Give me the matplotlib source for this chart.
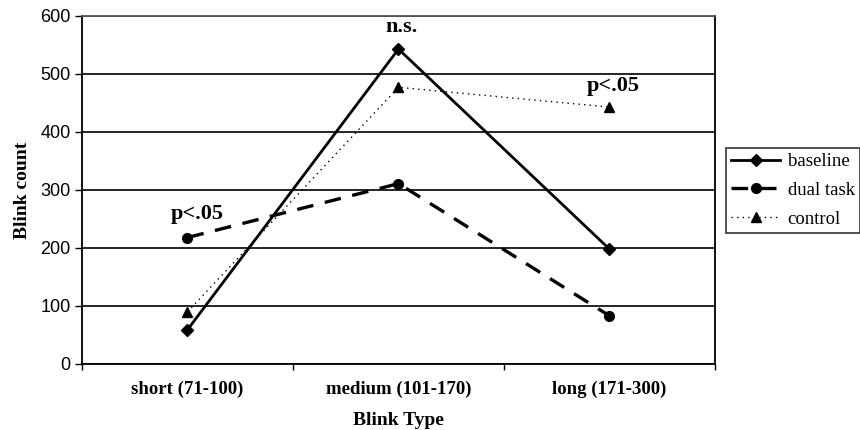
import numpy as np
import matplotlib
matplotlib.use("Agg")
import matplotlib.pyplot as plt
from matplotlib.ticker import FixedLocator

# ── data ─────────────────────────────────────────────────────────────────────
categories = ["short (71-100)", "medium (101-170)", "long (171-300)"]
baseline   = [59, 543, 198]
dual_task  = [218, 311, 83]
control    = [90, 477, 443]
yticks     = [0, 100, 200, 300, 400, 500, 600]
notes      = [("p<.05", 0, 218), ("n.s.", 1, 543), ("p<.05", 2, 443)]

SERIF = "Liberation Serif"
SANS  = "Liberation Sans"

fig = plt.figure(figsize=(8.6, 4.3), dpi=100, facecolor="white")
ax = fig.add_axes([0.0953, 0.1535, 0.7361, 0.8093])

x = np.arange(len(categories))

ax.plot(x, baseline, color="black", lw=2.0, ls="-",
        marker="D", ms=6, mfc="black", mec="black", label="baseline", zorder=4)
ax.plot(x, dual_task, color="black", lw=2.4, ls=(0, (5, 3.5)),
        marker="o", ms=7, mfc="black", mec="black", label="dual task", zorder=4)
ax.plot(x, control, color="black", lw=1.0, ls=(0, (1, 3)),
        marker="^", ms=7.5, mfc="black", mec="black", label="control", zorder=4)

# significance notes (offsets in points from the marked point)
note_offsets = [(7, 10), (2, 9), (3, 8)]
for (txt, i, v), (dx, dy) in zip(notes, note_offsets):
    ax.annotate(txt, xy=(i, v), xytext=(dx, dy),
                textcoords="offset points", ha="center", va="bottom",
                fontsize=16, fontweight="bold", family=SERIF)

# axes styling
ax.set_xlim(-0.5, 2.5)
ax.set_ylim(0, 600)
ax.set_yticks(yticks)
ax.set_xticks(x)
ax.set_xticklabels(categories, fontsize=13.5, fontweight="bold", family=SERIF)
ax.xaxis.set_minor_locator(FixedLocator([-0.5, 0.5, 1.5, 2.5]))
ax.tick_params(axis="x", which="major", length=0, pad=12)
ax.tick_params(axis="x", which="minor", length=4, width=1, direction="out")
ax.tick_params(axis="y", length=5, width=1, direction="out", pad=3)
for lab in ax.get_yticklabels():
    lab.set_family(SANS)
    lab.set_fontsize(13)

ax.grid(axis="y", color="black", lw=1.2, zorder=1)
ax.set_axisbelow(True)
for sp in ax.spines.values():
    sp.set_color("black")
    sp.set_linewidth(1.3)
ax.spines["top"].set_color("#555555")

ax.set_xlabel("Blink Type", fontsize=14, fontweight="bold", family=SERIF, labelpad=10)
ax.set_ylabel("Blink count", fontsize=14, fontweight="bold", family=SERIF, labelpad=7)

leg = ax.legend(loc="upper left", bbox_to_anchor=(1.017, 0.622),
                frameon=True, fancybox=False, edgecolor="black",
                prop={"family": SERIF, "size": 13.5},
                handlelength=2.6, handletextpad=0.4, borderpad=0.3,
                labelspacing=0.62, borderaxespad=0)
leg.get_frame().set_linewidth(1.2)

fig.savefig("out.png", dpi=100, facecolor="white")
